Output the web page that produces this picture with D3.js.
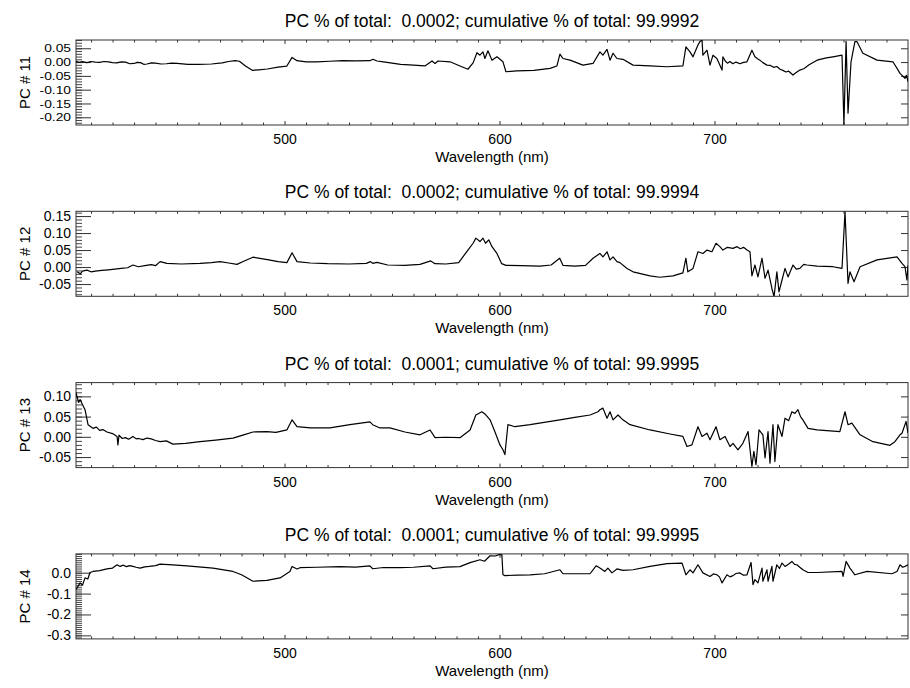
<!DOCTYPE html>
<html>
<head>
<meta charset="utf-8">
<script src="https://cdn.jsdelivr.net/npm/d3@7"></script>
<style>
  body { margin: 0; background: #fff; }
  svg text { font-family: "Liberation Sans", Arial, Helvetica, sans-serif; fill: #000; }
</style>
</head>
<body>
<svg id="chart" width="910" height="688"></svg>
<script>
  // values: [wavelength nm, PC value]
  var pc11 = [
    [403, 0.003], [404.5, -0.001], [406, 0.002], [408, -0.002], [410, 0.002], [412, 0.000],
    [414, -0.001], [416, 0.002], [418, 0.001], [420, -0.002], [422, -0.003], [424, 0.001],
    [426, 0.000], [428, -0.006], [430, -0.005], [431.5, -0.001], [433, -0.002], [434.5, -0.008],
    [436, -0.007], [438, -0.003], [440, -0.004], [442.5, -0.007], [445, -0.006], [447.5, -0.004],
    [450, -0.005], [455, -0.008], [460, -0.008], [466, -0.007], [471, -0.003], [474, 0.002],
    [477, 0.005], [479, 0.003], [482, -0.015], [485, -0.030], [488, -0.028], [492, -0.025],
    [497, -0.018], [501, -0.015], [503.5, 0.017], [505.8, 0.005], [510, 0.001], [515, 0.001],
    [521, 0.003], [527, 0.005], [533, 0.004], [539.7, 0.005], [541.1, 0.010], [543, 0.004],
    [546, 0.001], [554, -0.008], [560, -0.011], [565.3, -0.014], [568.6, 0.004], [570, -0.005],
    [571.4, 0.004], [577, 0.001], [581.6, -0.014], [585.3, -0.026], [587.7, -0.003], [589.5, 0.034],
    [590.9, 0.025], [592.3, 0.037], [593.2, 0.013], [594.6, 0.041], [596.5, 0.007], [598.8, 0.019],
    [601.6, 0.001], [603, -0.035], [608, -0.032], [616, -0.030], [623.5, -0.023], [626.7, -0.014],
    [628.1, 0.029], [629.5, 0.013], [632.8, 0.007], [638.8, -0.011], [643.5, -0.005], [646.7, 0.037],
    [648.1, 0.025], [650, 0.046], [651.4, 0.007], [652.8, 0.032], [654.6, 0.013], [657.4, 0.010],
    [662.1, -0.011], [670, -0.014], [677.9, -0.017], [685.3, -0.014], [686.7, 0.055], [688.6, 0.037],
    [690, 0.019], [692.3, 0.062], [693.2, 0.074], [694.2, 0.080], [694.6, 0.025], [696.5, 0.043],
    [697.9, -0.011], [699.3, 0.025], [701.1, 0.013], [703.5, -0.029], [703.9, 0.019], [705, 0.004],
    [706, -0.004], [707.2, 0.002], [708.5, -0.006], [710, 0.000], [711.8, -0.006], [713.5, -0.001],
    [715.1, 0.001], [717.4, 0.043], [718.8, 0.019], [720, 0.012], [721.1, 0.007], [722.5, -0.002],
    [724.4, -0.011], [726, -0.012], [727.5, -0.019], [729, -0.016], [730.5, -0.026], [731.8, -0.030],
    [733.2, -0.036], [734.5, -0.033], [736.5, -0.047], [738, -0.038], [739.7, -0.029], [741.5, -0.024],
    [744, -0.010], [747.7, 0.007], [752, 0.015], [755.1, 0.019], [759.3, 0.025], [760.2, -0.225],
    [761.2, 0.075], [762.1, -0.185], [763.5, 0.001], [765.3, 0.074], [766.3, 0.074], [769, 0.032],
    [775.6, 0.007], [783, 0.001], [786.3, -0.041], [788.6, -0.059], [789.3, -0.048], [790, -0.071]
  ];

  var pc12 = [
    [403.5, -0.014], [405, -0.020], [406, -0.012], [408.1, -0.009], [410, -0.014], [412, -0.012],
    [415, -0.010], [418, -0.008], [421, -0.006], [424, -0.004], [427, -0.002], [429.5, 0.006],
    [432, 0.001], [435, 0.004], [438, 0.007], [440, 0.004], [442.1, 0.016], [445.3, 0.011],
    [452, 0.009], [460.7, 0.011], [466, 0.013], [470, 0.016], [474, 0.012], [477.9, 0.008],
    [481, 0.017], [485.3, 0.029], [492, 0.022], [497, 0.016], [501.1, 0.013], [503.5, 0.042],
    [505.8, 0.016], [512, 0.012], [520, 0.010], [530, 0.009], [538, 0.011], [540, 0.016],
    [541, 0.011], [543, 0.014], [548, 0.006], [556, 0.005], [563, 0.008], [568, 0.018],
    [570, 0.010], [575, 0.009], [581, 0.013], [585.3, 0.050], [587.7, 0.070], [589, 0.085],
    [590.9, 0.075], [592.3, 0.085], [593.5, 0.070], [595, 0.080], [596.5, 0.060], [598.8, 0.040],
    [601, 0.010], [603, 0.005], [610, 0.004], [618.8, 0.003], [624, 0.006], [628, 0.026],
    [629.5, 0.005], [635, 0.003], [640, 0.005], [643.5, 0.026], [646.7, 0.040], [648.1, 0.030],
    [650, 0.045], [651.4, 0.021], [652.8, 0.030], [654.6, 0.016], [656, 0.013], [659.3, -0.004],
    [662.1, -0.014], [670, -0.026], [674.6, -0.030], [680.7, -0.026], [685.3, -0.017], [686.7, 0.026],
    [687.6, -0.014], [690, -0.004], [692.3, 0.045], [694.6, 0.040], [696.5, 0.050], [698.8, 0.045],
    [700.7, 0.070], [702.5, 0.060], [703.9, 0.050], [706, 0.058], [708.6, 0.055], [710.5, 0.060],
    [712, 0.054], [713.5, 0.058], [715.1, 0.050], [716.5, 0.045], [717.4, -0.026], [718.8, 0.006],
    [720.2, -0.029], [722.1, 0.026], [723.5, -0.033], [724.9, -0.009], [726.7, -0.063], [727.7, -0.087],
    [729.0, -0.014], [730.0, -0.073], [731.4, -0.038], [732.8, -0.004], [734.2, -0.029], [736.5, 0.006],
    [738, -0.006], [739.7, -0.004], [741.5, 0.008], [743.0, 0.006], [747.7, 0.003], [755.1, 0.001],
    [759.3, -0.004], [760.7, 0.163], [762.1, -0.048], [763.0, -0.014], [764.9, -0.043], [767.7, 0.001],
    [775.6, 0.021], [784.9, 0.030], [787.2, 0.011], [788.6, 0.001], [789.5, -0.038], [790, 0.005]
  ];

  var pc13 = [
    [403, 0.110], [403.5, 0.099], [404.2, 0.085], [404.9, 0.092], [406, 0.080], [407.2, 0.067],
    [408.6, 0.030], [410.9, 0.021], [412.5, 0.024], [414, 0.016], [415.5, 0.018], [417.4, 0.012],
    [420, 0.008], [422.1, 0.001], [422.5, -0.020], [423, 0.004], [424.5, -0.004], [426, -0.002],
    [427.5, -0.006], [429.5, 0.001], [431, -0.005], [432, -0.004], [434.2, -0.007], [436, -0.003],
    [438, -0.005], [440, -0.009], [442.1, -0.012], [445, -0.010], [448.1, -0.018], [454, -0.016],
    [460.7, -0.012], [468, -0.008], [476.0, -0.003], [481, 0.005], [485.3, 0.012], [491.8, 0.013],
    [496, 0.011], [501.1, 0.017], [503.5, 0.042], [505.8, 0.025], [512, 0.022], [521.1, 0.022],
    [530.4, 0.030], [539.7, 0.037], [541, 0.030], [544.4, 0.022], [549, 0.022], [556, 0.012],
    [563, 0.005], [567.7, 0.017], [570, -0.002], [575, -0.001], [581.6, -0.002], [586.3, 0.017],
    [589, 0.054], [591.8, 0.062], [593.5, 0.055], [595.6, 0.042], [597.9, 0.012], [600.2, -0.020],
    [601.6, -0.032], [602.5, -0.044], [603.9, 0.030], [607.2, 0.025], [614.2, 0.030], [620, 0.035],
    [628.1, 0.042], [635, 0.048], [642.1, 0.054], [645.8, 0.062], [646.7, 0.067], [648.1, 0.071],
    [650.0, 0.046], [651.4, 0.062], [652.8, 0.042], [655.1, 0.054], [657.4, 0.042], [660.7, 0.030],
    [670.0, 0.017], [679.3, 0.007], [685.3, 0.001], [687.2, -0.024], [689.5, -0.020], [692.3, 0.025],
    [694.2, 0.001], [696.5, 0.009], [697.9, -0.007], [700.7, 0.025], [702.5, -0.007], [704.9, 0.001],
    [707.2, -0.024], [708.6, -0.016], [710.9, -0.032], [713.2, -0.016], [715.6, 0.013], [717.4, -0.073],
    [718.3, -0.036], [719.3, -0.069], [720.7, 0.017], [722.5, 0.005], [723.5, -0.052], [724.9, 0.013],
    [725.8, -0.065], [727.2, 0.030], [728.1, -0.061], [729.5, 0.030], [731.4, 0.001], [732.8, 0.046],
    [734.5, 0.040], [736.0, 0.062], [737.4, 0.058], [738.8, 0.067], [740, 0.050], [741.1, 0.042],
    [743.5, 0.021], [747.7, 0.017], [758.3, 0.013], [760.7, 0.062], [762.1, 0.030], [763.9, 0.034],
    [767.7, 0.005], [773.7, -0.012], [781.6, -0.021], [783.9, -0.012], [786.3, 0.005], [787.2, 0.009],
    [789.1, 0.038], [790.0, 0.009]
  ];

  var pc14 = [
    [403, -0.080], [403.5, -0.073], [404.9, -0.049], [406, -0.060], [407.2, -0.025], [408.5, -0.030],
    [409.5, 0.001], [410.9, 0.006], [414, 0.010], [417.4, 0.018], [420, 0.022], [422.1, 0.038],
    [423.5, 0.030], [425, 0.036], [426.5, 0.029], [428, 0.034], [429.5, 0.030], [431, 0.026],
    [432.8, 0.022], [435, 0.028], [437, 0.030], [440, 0.034], [442.1, 0.041], [448, 0.037],
    [454.6, 0.033], [460, 0.028], [466.7, 0.022], [476.0, 0.006], [480, -0.010], [485.3, -0.041],
    [491.8, -0.037], [497.9, -0.025], [502.5, 0.006], [503.5, 0.030], [505.8, 0.018], [507.2, 0.024],
    [515, 0.026], [525.8, 0.029], [533, 0.027], [539.7, 0.033], [541, 0.019], [546, 0.025],
    [553.7, 0.024], [560, 0.026], [567.7, 0.033], [569, 0.019], [575, 0.027], [581.6, 0.029],
    [586.3, 0.048], [590.9, 0.062], [593, 0.055], [595.6, 0.081], [598, 0.080], [600.2, 0.088],
    [601.1, 0.085], [601.6, -0.010], [602.5, -0.014], [608, -0.012], [614.2, -0.010], [621, -0.005],
    [628.1, 0.014], [629.5, -0.005], [635.1, -0.005], [642.1, -0.005], [644.9, 0.033], [646.7, 0.022],
    [649.0, 0.006], [650.4, 0.022], [652.3, -0.001], [654.6, 0.018], [657.4, 0.011], [662.1, 0.014],
    [670.0, 0.030], [677.9, 0.043], [684.9, 0.046], [686.7, -0.010], [688.6, 0.014], [690.0, -0.001],
    [692.3, 0.038], [694.6, -0.001], [697.9, -0.018], [699.5, -0.006], [701.1, -0.010], [702.3, -0.020],
    [703.5, -0.049], [705.8, -0.010], [707.2, -0.020], [708.6, -0.014], [710, -0.004], [711.8, -0.001],
    [713.5, -0.012], [715.1, -0.010], [717.0, 0.049], [717.9, -0.057], [718.8, -0.033], [720.2, -0.049],
    [722.1, 0.022], [722.5, -0.041], [724.4, 0.014], [724.9, -0.041], [726.7, 0.030], [727.2, -0.041],
    [729.0, 0.038], [730.2, 0.020], [731.4, 0.046], [732.8, 0.030], [734.5, 0.042], [736.0, 0.054],
    [737.2, 0.040], [738.3, 0.038], [739.8, 0.025], [741.1, 0.014], [743.5, 0.001], [747.7, 0.001],
    [759.3, 0.006], [759.8, -0.018], [761.2, 0.054], [763.0, 0.022], [765.3, -0.010], [770.9, 0.006],
    [782.5, -0.005], [784.9, 0.006], [786.3, 0.038], [787.5, 0.026], [788.6, 0.030], [790.0, 0.038]
  ];

  var series = [pc11, pc12, pc13, pc14];
  var pcNames = ['PC # 11', 'PC # 12', 'PC # 13', 'PC # 14'];
  var pcPercent = ['0.0002', '0.0002', '0.0001', '0.0001'];
  var pcCumulative = ['99.9992', '99.9994', '99.9995', '99.9995'];
  var yDomains = [[-0.228, 0.080], [-0.086, 0.164], [-0.076, 0.134], [-0.317, 0.090]];
  var yMajorTicks = [
    [-0.20, -0.15, -0.10, -0.05, 0.00, 0.05],
    [-0.05, 0.00, 0.05, 0.10, 0.15],
    [-0.05, 0.00, 0.05, 0.10],
    [-0.3, -0.2, -0.1, 0.0]
  ];
  var yDecimals = [2, 2, 2, 1];
  var xDomain = [403, 790];
  var xMajorTicks = [500, 600, 700];

  var svg = d3.select('#chart');
  var left = 76;
  var right = 908;
  var plotHeight = 85;
  var panelStep = 171.3;
  var axisColor = '#333';
  var font = '"Liberation Sans", Arial, Helvetica, sans-serif';

  var x = d3.scaleLinear().domain(xDomain).range([left, right]);
  var xMinor = d3.range(410, 790, 10).filter(function(v) { return v % 100 !== 0; });

  function fmt(decimals) {
    return function(v) {
      var s = Math.abs(v).toFixed(decimals);
      return (v < -1e-9 ? '-' : '') + s;
    };
  }

  function styleAxis(g) {
    g.attr('font-family', font);
    g.select('.domain').remove();
    g.selectAll('.tick line').attr('stroke', axisColor);
    g.selectAll('.tick text').attr('fill', '#000');
  }

  series.forEach(function(data, i) {
    var top = 40 + i * panelStep;
    var bottom = top + plotHeight;
    var y = d3.scaleLinear().domain(yDomains[i]).range([bottom, top]);
    var panel = svg.append('g').attr('class', 'panel panel-' + i);

    panel.append('clipPath')
      .attr('id', 'clip-' + i)
      .append('rect')
      .attr('x', left)
      .attr('y', top)
      .attr('width', right - left)
      .attr('height', plotHeight);

    // title
    panel.append('text')
      .attr('x', (left + right) / 2)
      .attr('y', top - 13)
      .attr('text-anchor', 'middle')
      .style('font-size', '17.5px')
      .style('white-space', 'pre')
      .text('PC % of total:  ' + pcPercent[i] + '; cumulative % of total: ' + pcCumulative[i]);

    // y minor ticks (left side)
    var yMinorVals = d3.range(Math.ceil(yDomains[i][0] * 100), Math.floor(yDomains[i][1] * 100) + 1)
      .map(function(k) { return k / 100; });
    panel.append('g')
      .attr('transform', 'translate(' + left + ',0)')
      .call(d3.axisLeft(y).tickValues(yMinorVals).tickSize(-6).tickFormat(''))
      .call(styleAxis)
      .selectAll('.tick line').attr('stroke', '#444');

    // y major ticks + labels; the tightly packed first panel gets a condensed label
    var dense = (y(yMajorTicks[i][0]) - y(yMajorTicks[i][1])) < 16;
    var yAxis = panel.append('g')
      .attr('transform', 'translate(' + left + ',0)')
      .call(d3.axisLeft(y).tickValues(yMajorTicks[i]).tickSize(-15).tickPadding(5).tickFormat(fmt(yDecimals[i])))
      .call(styleAxis);
    if (dense) {
      yAxis.selectAll('.tick text')
        .attr('font-size', 11.5)
        .attr('x', -5 / 1.2)
        .attr('transform', 'scale(1.2,1)');
    } else {
      yAxis.selectAll('.tick text').attr('font-size', 14);
    }

    // right ticks
    panel.append('g')
      .attr('transform', 'translate(' + right + ',0)')
      .call(d3.axisRight(y).tickValues(yMajorTicks[i]).tickSize(-7).tickFormat(''))
      .call(styleAxis);

    // bottom ticks + labels
    panel.append('g')
      .attr('transform', 'translate(0,' + bottom + ')')
      .call(d3.axisBottom(x).tickValues(xMinor).tickSize(-2.5).tickFormat(''))
      .call(styleAxis);
    panel.append('g')
      .attr('transform', 'translate(0,' + bottom + ')')
      .call(d3.axisBottom(x).tickValues(xMajorTicks).tickSize(-4).tickPadding(9).tickFormat(d3.format('d')))
      .call(styleAxis)
      .selectAll('.tick text').attr('font-size', 14);

    // top ticks
    panel.append('g')
      .attr('transform', 'translate(0,' + top + ')')
      .call(d3.axisTop(x).tickValues(xMinor).tickSize(-2.5).tickFormat(''))
      .call(styleAxis);
    panel.append('g')
      .attr('transform', 'translate(0,' + top + ')')
      .call(d3.axisTop(x).tickValues(xMajorTicks).tickSize(-4).tickFormat(''))
      .call(styleAxis);

    // frame
    panel.append('rect')
      .attr('x', left)
      .attr('y', top)
      .attr('width', right - left)
      .attr('height', plotHeight)
      .attr('fill', 'none')
      .attr('stroke', axisColor)
      .attr('stroke-width', 1);

    // axis titles
    panel.append('text')
      .attr('x', (left + right) / 2)
      .attr('y', bottom + 37)
      .attr('text-anchor', 'middle')
      .style('font-size', '15px')
      .text('Wavelength (nm)');

    panel.append('text')
      .attr('transform', 'translate(30,' + (top + plotHeight / 2) + ') rotate(-90)')
      .attr('text-anchor', 'middle')
      .style('font-size', '15px')
      .text(pcNames[i]);

    // spectrum
    var line = d3.line()
      .x(function(d) { return x(d[0]); })
      .y(function(d) { return y(d[1]); });

    panel.append('path')
      .datum(data)
      .attr('clip-path', 'url(#clip-' + i + ')')
      .attr('fill', 'none')
      .attr('stroke', '#000')
      .attr('stroke-width', 1.2)
      .attr('stroke-linejoin', 'round')
      .attr('d', line);
  });
</script>
</body>
</html>
